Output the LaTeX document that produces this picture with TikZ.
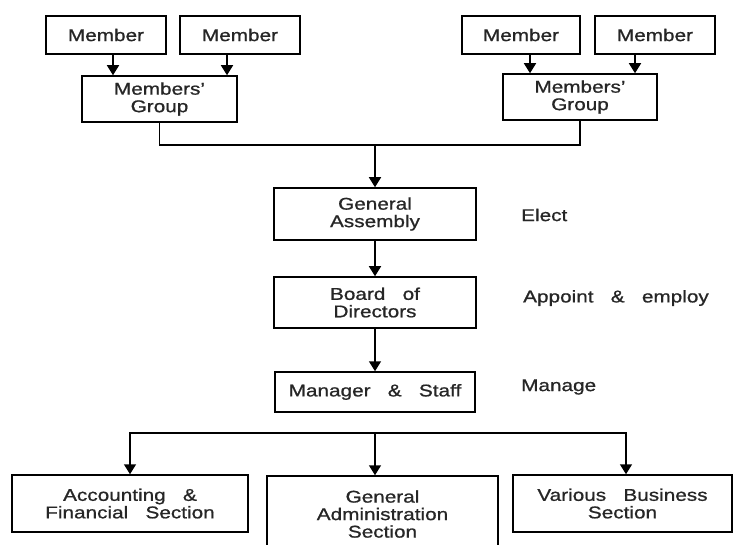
\documentclass[tikz,border=0pt]{standalone}
\usepackage{fontspec}
\setmainfont{Liberation Sans}[FakeStretch=1.22,WordSpace=3,FakeBold=0.9]
\usetikzlibrary{arrows.meta}
\begin{document}
\begin{tikzpicture}[x=1pt,y=-1pt,
  box/.style={draw, line width=1.5pt, inner sep=0pt, align=center,
    font=\fontsize{17}{17.5}\selectfont, text=black!85},
  lbl/.style={inner sep=0pt, anchor=west, font=\fontsize{17}{17.5}\selectfont, text=black!85},
  conn/.style={line width=1.5pt},
  arr/.style={line width=1.5pt, -{Triangle[width=12pt,length=10pt]}}]
\clip (0,0) rectangle (736,545);
\fill[white] (0,0) rectangle (736,545);
% members
\node[box, minimum width=120pt, minimum height=38pt] (m1) at (106,35) {Member};
\node[box, minimum width=120pt, minimum height=38pt] (m2) at (240,35) {Member};
\node[box, minimum width=118pt, minimum height=38pt] (m3) at (521,35) {Member};
\node[box, minimum width=120pt, minimum height=38pt] (m4) at (655,35) {Member};
% groups
\node[box, minimum width=155pt, minimum height=46pt] (g1) at (159.5,99) {Members'\\Group};
\node[box, minimum width=154pt, minimum height=46pt] (g2) at (580,97) {Members'\\Group};
\draw[arr] ([xshift=7pt]m1.south) -- ([xshift=7pt]m1.south |- g1.north);
\draw[arr] ([xshift=-13pt]m2.south) -- ([xshift=-13pt]m2.south |- g1.north);
\draw[arr] ([xshift=9pt]m3.south) -- ([xshift=9pt]m3.south |- g2.north);
\draw[arr] ([xshift=-20pt]m4.south) -- ([xshift=-20pt]m4.south |- g2.north);
% main column
\node[box, minimum width=202pt, minimum height=52pt] (ga) at (375,214) {General\\Assembly};
\node[box, minimum width=202pt, minimum height=51pt] (bd) at (375,302.5) {Board of\\Directors};
\node[box, minimum width=200pt, minimum height=40pt] (ms) at (375,392) {Manager \& Staff};
\coordinate (j) at (375,145);
\draw[conn] (g1.south) |- (j) -| (g2.south);
\draw[arr] (j) -- (ga.north);
\draw[arr] (ga.south) -- (bd.north);
\draw[arr] (bd.south) -- (ms.north);
% side labels
\node[lbl] (el) at (521,215) {Elect};
\node[lbl] (ap) at (523,298) {Appoint \& employ};
\node[lbl] (mn) at (521,387) {Manage};
% sections
\node[box, minimum width=236pt, minimum height=57pt] (s1) at (130,503.5) {Accounting \&\\Financial Section};
\node[box, minimum width=231pt, minimum height=76pt] (s2) at (382.5,514) {General\\Administration\\Section};
\node[box, minimum width=219pt, minimum height=57pt] (s3) at (622.5,503.5) {Various Business\\Section};
\coordinate (bm) at (375,433);
\coordinate (br) at (626,433);
\draw[arr] (bm) -| (s1.north);
\draw[arr] (bm) -| (s3.north -| br);
\draw[arr] (bm) -- (s2.north -| bm);
\end{tikzpicture}
\end{document}
